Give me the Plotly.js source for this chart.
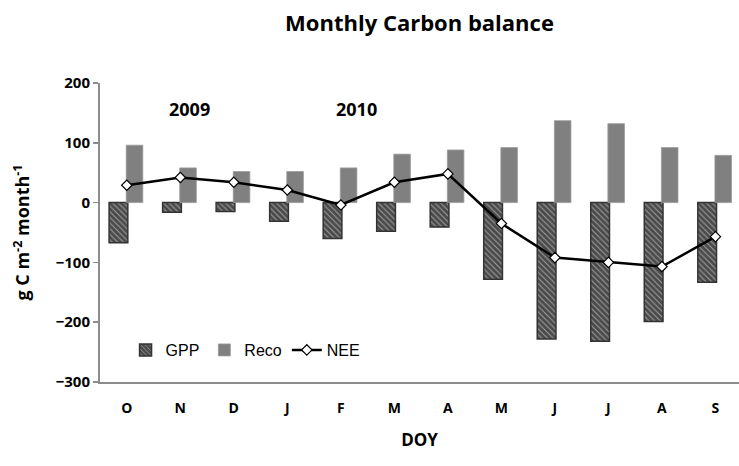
<!DOCTYPE html>
<html>
<head>
<meta charset="utf-8">
<script src="https://cdn.plot.ly/plotly-3.0.1.min.js"></script>
<style>html,body{margin:0;padding:0;background:#fff;}#chart{width:739px;height:466px;}</style>
</head>
<body>
<div id="chart"></div>
<script>
// Data (g C m-2 month-1), Oct 2009 - Sep 2010
var months = ["O","N","D","J","F","M","A","M","J","J","A","S"];
var monthIndex = [0,1,2,3,4,5,6,7,8,9,10,11];
var gpp  = [-67,-16,-15,-31,-60,-48,-41,-128,-228,-232,-199,-133];
var reco = [96,58,52,52,58,81,88,92,137,132,92,79];
var nee  = [29,42,34,21,-4,34,48,-35,-92,-100,-107,-57];
var yearLabels = ["2009","2010"];

var boldFont = "'Open Sans', Lato, sans-serif";

var traces = [
  {
    type: "bar", name: "GPP", x: monthIndex, y: gpp,
    offset: -0.33, width: 0.35,
    marker: {
      color: "#4a4a4a",
      line: {color: "#333333", width: 1.5},
      pattern: {shape: "\\", fgcolor: "#a0a0a0", bgcolor: "#4a4a4a", size: 4, solidity: 0.25}
    },
    hoverinfo: "y"
  },
  {
    type: "bar", name: "Reco", x: monthIndex, y: reco,
    offset: -0.01, width: 0.31,
    marker: {color: "#808080", line: {color: "#9a9a9a", width: 0.8}},
    hoverinfo: "y"
  },
  {
    type: "scatter", mode: "lines+markers", name: "NEE", x: monthIndex, y: nee,
    line: {color: "#000000", width: 2.5},
    marker: {symbol: "diamond", size: 8, color: "#ffffff", line: {color: "#000000", width: 1.2}},
    hoverinfo: "y"
  }
];

var layout = {
  width: 739, height: 466,
  margin: {l: 100, r: 0, t: 83, b: 84},
  paper_bgcolor: "#ffffff", plot_bgcolor: "#ffffff",
  barmode: "overlay",
  showlegend: true,
  title: {
    text: "Monthly Carbon balance",
    font: {family: boldFont, size: 22, color: "#000", weight: "bold"},
    x: 0.5, xref: "paper", xanchor: "center",
    y: 0.95, yref: "container", yanchor: "middle"
  },
  xaxis: {
    range: [-0.5, 11.44],
    tickmode: "array", tickvals: monthIndex, ticktext: months,
    ticks: "outside", ticklen: 12, tickcolor: "rgba(0,0,0,0)",
    tickfont: {family: boldFont, size: 14, color: "#000", weight: "bold"},
    showline: true, linecolor: "#8c8c8c", linewidth: 2,
    showgrid: false, zeroline: false, fixedrange: true,
    title: {text: "DOY", font: {family: boldFont, size: 17, color: "#000", weight: "bold"}, standoff: 18}
  },
  yaxis: {
    range: [-300, 200], dtick: 100, tick0: 0,
    ticks: "outside", ticklen: 5, tickcolor: "#8c8c8c", tickwidth: 1.5,
    showline: true, linecolor: "#8c8c8c", linewidth: 2,
    showgrid: false, zeroline: false,
    tickfont: {family: boldFont, size: 15, color: "#000", weight: "bold"},
    title: {text: "g C m<sup>-2</sup> month<sup>-1</sup>", font: {family: boldFont, size: 18, color: "#000", weight: "bold"}, standoff: 21},
    fixedrange: true
  },
  legend: {
    orientation: "h", x: 0.04, xanchor: "left", y: 0.107, yanchor: "middle",
    bgcolor: "rgba(0,0,0,0)",
    font: {family: "'Liberation Sans', Arial, sans-serif", size: 16, color: "#000"},
    traceorder: "normal"
  },
  annotations: [
    {text: yearLabels[0], xref: "paper", yref: "paper", x: 0.105, y: 0.913, yanchor: "middle", showarrow: false,
     font: {family: boldFont, size: 18, color: "#000", weight: "bold"}},
    {text: yearLabels[1], xref: "paper", yref: "paper", x: 0.401, y: 0.913, yanchor: "middle", showarrow: false,
     font: {family: boldFont, size: 18, color: "#000", weight: "bold"}}
  ]
};

Plotly.newPlot("chart", traces, layout, {displayModeBar: false, staticPlot: true});
</script>
</body>
</html>
